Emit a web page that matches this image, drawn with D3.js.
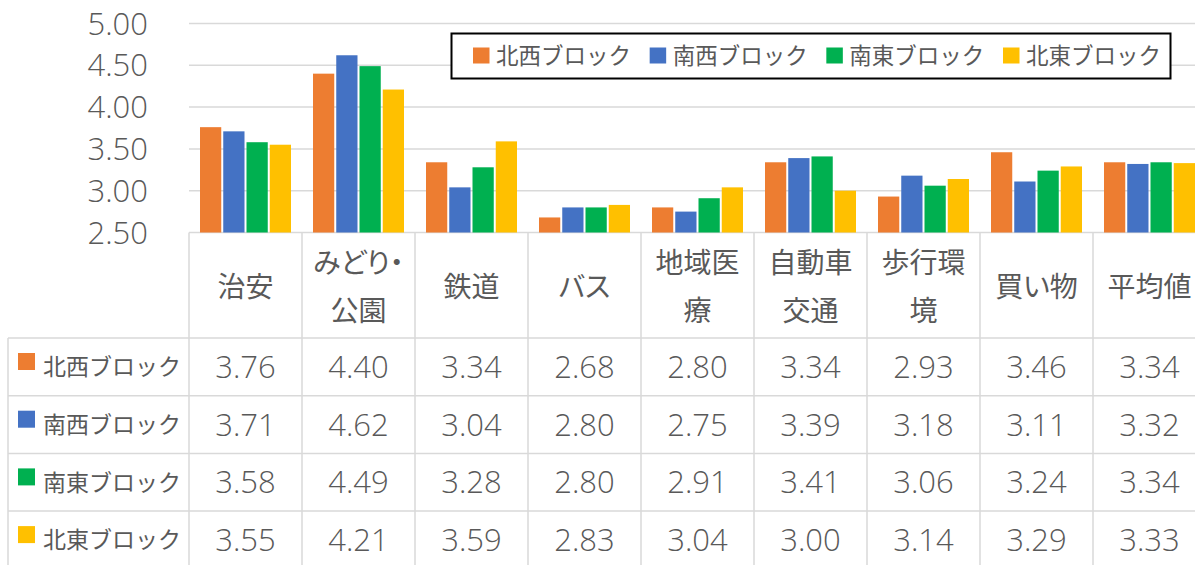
<!DOCTYPE html>
<html>
<head>
<meta charset="utf-8">
<script src="https://cdn.jsdelivr.net/npm/d3@7"></script>
<style>
  body { margin: 0; background: #fff; }
  svg { display: block; font-family: "DejaVu Sans", "Noto Sans CJK JP", sans-serif; }
  .num { font-family: "Open Sans", "DejaVu Sans", sans-serif; font-weight: 300; }
  .jp { font-family: "Noto Sans CJK JP", sans-serif; }
  .head { font-feature-settings: "palt"; }
</style>
</head>
<body>
<svg id="chart" width="1195" height="565"></svg>
<script>
// categories (header lines) and series
const categories = ["治安", "みどり・公園", "鉄道", "バス", "地域医療", "自動車交通", "歩行環境", "買い物", "平均値"];
const categoryLines = [["治安"], ["みどり・", "公園"], ["鉄道"], ["バス"], ["地域医", "療"], ["自動車", "交通"], ["歩行環", "境"], ["買い物"], ["平均値"]];
const seriesNames = ["北西ブロック", "南西ブロック", "南東ブロック", "北東ブロック"];
const colors = ["#ED7D31", "#4472C4", "#00B050", "#FFC000"];

const northWest = [3.76, 4.40, 3.34, 2.68, 2.80, 3.34, 2.93, 3.46, 3.34];
const southWest = [3.71, 4.62, 3.04, 2.80, 2.75, 3.39, 3.18, 3.11, 3.32];
const southEast = [3.58, 4.49, 3.28, 2.80, 2.91, 3.41, 3.06, 3.24, 3.34];
const northEast = [3.55, 4.21, 3.59, 2.83, 3.04, 3.00, 3.14, 3.29, 3.33];
const seriesValues = [northWest, southWest, southEast, northEast];

const yTicks = [2.5, 3.0, 3.5, 4.0, 4.5, 5.0];

const svg = d3.select("#chart");
const textColor = "#595959";
const gridColor = "#d9d9d9";

// scales
const x0 = d3.scaleBand().domain(categories).range([189, 1206]).padding(0);
const x1 = d3.scaleBand().domain(seriesNames).range([10, x0.bandwidth() - 10]).padding(0);
const y = d3.scaleLinear().domain([2.5, 5]).range([232.5, 23.5]);

// gridlines
svg.append("g")
  .selectAll("line")
  .data(yTicks)
  .join("line")
  .attr("x1", 189)
  .attr("x2", 1195)
  .attr("y1", d => y(d))
  .attr("y2", d => y(d))
  .attr("stroke", gridColor)
  .attr("stroke-width", 1.5);

// y axis labels
svg.append("g")
  .selectAll("text")
  .data(yTicks)
  .join("text")
  .attr("class", "num")
  .attr("x", 148)
  .attr("y", d => y(d))
  .attr("dy", "0.36em")
  .attr("text-anchor", "end")
  .attr("fill", textColor)
  .style("font-size", "31px")
  .text(d => d.toFixed(2));

// bars
const groups = svg.append("g")
  .selectAll("g")
  .data(categories)
  .join("g")
  .attr("transform", d => `translate(${x0(d)},0)`);

groups.selectAll("rect")
  .data((c, i) => seriesNames.map((s, j) => ({ s, j, v: seriesValues[j][i] })))
  .join("rect")
  .attr("x", d => x1(d.s) + 1)
  .attr("y", d => y(d.v))
  .attr("width", x1.bandwidth() - 2)
  .attr("height", d => y(2.5) - y(d.v))
  .attr("fill", d => colors[d.j]);

// legend
const legend = svg.append("g");
legend.append("rect")
  .attr("x", 451.5).attr("y", 33.5)
  .attr("width", 719).attr("height", 45)
  .attr("fill", "#fff")
  .attr("stroke", "#000")
  .attr("stroke-width", 2);
const legendX = d3.scalePoint().domain(seriesNames).range([473, 1003]);
const li = legend.selectAll("g.item")
  .data(seriesNames)
  .join("g")
  .attr("class", "item")
  .attr("transform", d => `translate(${legendX(d)},0)`);
li.append("rect")
  .attr("x", 0).attr("y", 47.5)
  .attr("width", 16.5).attr("height", 16)
  .attr("fill", (d, i) => colors[i]);
li.append("text")
  .attr("class", "jp")
  .attr("x", 23).attr("y", 56)
  .attr("dy", "0.36em")
  .attr("fill", textColor)
  .style("font-size", "22.5px")
  .text(d => d);

// data table
const rowY = d3.scaleBand().domain(seriesNames).range([338, 338 + 4 * 57.7]);
const table = svg.append("g");

// horizontal lines
table.selectAll("line.h")
  .data(seriesNames)
  .join("line")
  .attr("class", "h")
  .attr("x1", 8).attr("x2", 1195)
  .attr("y1", d => rowY(d)).attr("y2", d => rowY(d))
  .attr("stroke", gridColor).attr("stroke-width", 1.5);

// vertical lines
table.selectAll("line.v")
  .data(categories.concat(["end"]))
  .join("line")
  .attr("class", "v")
  .attr("x1", (d, i) => x0.range()[0] + i * x0.bandwidth())
  .attr("x2", (d, i) => x0.range()[0] + i * x0.bandwidth())
  .attr("y1", 232.5).attr("y2", 565)
  .attr("stroke", gridColor).attr("stroke-width", 1.5);
table.append("line")
  .attr("x1", 8).attr("x2", 8)
  .attr("y1", 338).attr("y2", 565)
  .attr("stroke", gridColor).attr("stroke-width", 1.5);

// header labels
const headers = table.selectAll("text.head")
  .data(categoryLines.map((lines, i) => ({ lines, c: categories[i] })))
  .join("text")
  .attr("class", "head jp")
  .attr("text-anchor", "middle")
  .attr("fill", textColor)
  .style("font-size", "28px");
headers.selectAll("tspan")
  .data(d => d.lines.map((t, k) => ({ t, k, n: d.lines.length, c: d.c })))
  .join("tspan")
  .attr("x", d => x0(d.c) + x0.bandwidth() / 2)
  .attr("y", d => d.n === 1 ? 287 : 263 + d.k * 48)
  .attr("dy", "0.36em")
  .text(d => d.t);

// row labels
const rows = table.selectAll("g.row")
  .data(seriesNames)
  .join("g")
  .attr("class", "row")
  .attr("transform", d => `translate(0,${rowY(d)})`);
rows.append("rect")
  .attr("x", 18).attr("y", 15)
  .attr("width", 17).attr("height", 17)
  .attr("fill", (d, i) => colors[i]);
rows.append("text")
  .attr("class", "jp")
  .attr("x", 43).attr("y", rowY.bandwidth() / 2)
  .attr("dy", "0.36em")
  .attr("fill", textColor)
  .style("font-size", "23px")
  .text(d => d);
rows.selectAll("text.val")
  .data((d, i) => seriesValues[i].map((v, k) => ({ v, c: categories[k] })))
  .join("text")
  .attr("class", "val num")
  .attr("x", d => x0(d.c) + x0.bandwidth() / 2)
  .attr("y", rowY.bandwidth() / 2)
  .attr("dy", "0.36em")
  .attr("text-anchor", "middle")
  .attr("fill", textColor)
  .style("font-size", "31px")
  .text(d => d.v.toFixed(2));
</script>
</body>
</html>
